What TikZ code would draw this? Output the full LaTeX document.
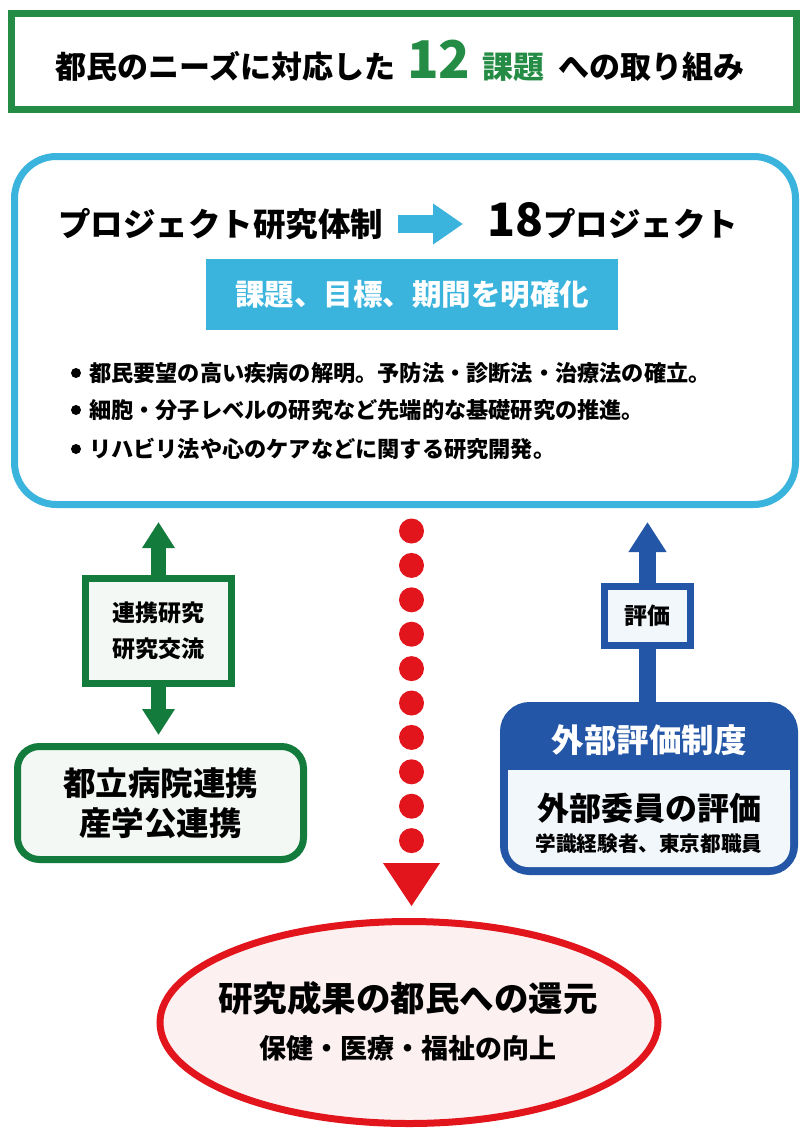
\documentclass[tikz,border=0pt]{standalone}
\usepackage{fontspec}
\setmainfont{Noto Sans CJK JP}
\usetikzlibrary{arrows.meta,shapes.geometric}
\definecolor{tgreen}{HTML}{248C44}
\definecolor{dgreen}{HTML}{137B3B}
\definecolor{lblue}{HTML}{3AB3DD}
\definecolor{dblue}{HTML}{2356A6}
\definecolor{tred}{HTML}{E2141C}
\definecolor{pinkfill}{HTML}{FCF1F0}
\definecolor{greenfill}{HTML}{F3F8F4}
\definecolor{bluefill}{HTML}{F2F7FC}
\newcommand{\fs}[1]{\fontsize{#1}{#1}\selectfont}
\begin{document}
\begin{tikzpicture}[x=1pt,y=-1pt,
  every node/.style={inner sep=0pt, outer sep=0pt, font=\bfseries},
  frame/.style={line width=7pt},
  bullettext/.style={anchor=base west, font=\bfseries\fs{22.2}},
  bulletdot/.style={circle, fill=black, minimum size=10pt},
]
\fill[white] (0,0) rectangle (807,1132);
\useasboundingbox (0,0) rectangle (807,1132);

% ---- title box
\node[frame, draw=tgreen, minimum width=785pt, minimum height=96pt] (title) at (404,61.5) {};
\node[anchor=base] (titletext) at (400,78) {\fs{31}都民のニーズに対応した\hspace{12pt}{\color{tgreen}\fs{52}12}\hspace{12pt}{\color{tgreen}課題}\hspace{14pt}への取り組み};

% ---- main project box
\node[frame, draw=lblue, fill=white, rounded corners=42pt, minimum width=781pt, minimum height=348pt] (main) at (405,330.5) {};
\node[anchor=base] (proj) at (220.5,236) {\fs{32.5}プロジェクト研究体制};
\node[anchor=base west] (p18) at (487,236) {{\fs{46}18}{\fs{32.5}プロジェクト}};
\coordinate (pa1) at (398,224);
\coordinate (pa2) at (463,224);
\draw[lblue, line width=18pt, -{Triangle[width=39pt,length=30pt]}] (pa1) -- (pa2);
\node[fill=lblue, text=white, minimum width=412pt, minimum height=71pt, font=\bfseries\fs{29.5}] (goal) at (412,294.5) {課題、目標、期間を明確化};

\node[bulletdot] (b1) at (76,373) {};
\node[bulletdot] (b2) at (76,410) {};
\node[bulletdot] (b3) at (76,449) {};
\node[bullettext] (t1) at (89,381.5) {都民要望の高い疾病の解明。予防法・診断法・治療法の確立。};
\node[bullettext] (t2) at (89,418.5) {細胞・分子レベルの研究など先端的な基礎研究の推進。};
\node[bullettext] (t3) at (89,457.5) {リハビリ法や心のケアなどに関する研究開発。};

% ---- green double arrow
\coordinate (gtop) at (158.5,522);
\coordinate (gbot) at (158.5,735);
\draw[dgreen, line width=15pt, {Triangle[width=31pt,length=26pt]}-{Triangle[width=31pt,length=26pt]}] (gtop) -- (gbot);
\node[frame, draw=dgreen, fill=greenfill, minimum width=146pt, minimum height=105pt, align=center, font=\bfseries\fontsize{23}{36}\selectfont] (collab) at (158.5,631) {連携研究\\研究交流};

% ---- green box
\node[frame, draw=dgreen, fill=greenfill, rounded corners=22pt, minimum width=286pt, minimum height=113pt, align=center, font=\bfseries\fontsize{32.5}{40}\selectfont] (hosp) at (160.5,803) {都立病院連携\\産学公連携};

% ---- blue arrow
\coordinate (btop) at (647.5,522);
\coordinate (bbot) at (647.5,706);
\draw[dblue, line width=17pt, -{Triangle[width=36pt,length=30pt]}] (bbot) -- (btop);
\node[frame, draw=dblue, fill=bluefill, minimum width=86pt, minimum height=59pt, font=\bfseries\fs{23}] (evalbox) at (647.5,616) {評価};

% ---- external evaluation box
\node[frame, draw=dblue, fill=dblue, rounded corners=26pt, minimum width=291pt, minimum height=166pt] (ext) at (649,788.5) {};
\fill[bluefill, rounded corners=20pt] (508,770) rectangle (790,867);
\fill[bluefill] (508,770) rectangle (790,800);
\node[anchor=base, text=white, font=\bfseries\fs{32.5}] (exthead) at (649,752) {外部評価制度};
\node[anchor=base, font=\bfseries\fs{32}] (extmem) at (649,820) {外部委員の評価};
\node[anchor=base, font=\bfseries\fs{20.6}] (extsub) at (649,851) {学識経験者、東京都職員};

% ---- red dotted connector
\foreach \i in {0,...,9} {
  \fill[tred] (411.5,531+34.4*\i) circle (12.5);
}
\fill[tred] (383,863) -- (440,863) -- (411.5,906) -- cycle;

% ---- result ellipse
\node[ellipse, frame, draw=tred, fill=pinkfill, minimum width=498pt, minimum height=202pt] (result) at (409,1022.5) {};
\node[anchor=base, font=\bfseries\fs{34.5}] (res1) at (408,1011) {研究成果の都民への還元};
\node[anchor=base, font=\bfseries\fs{27}] (res2) at (408,1058) {保健・医療・福祉の向上};
\end{tikzpicture}
\end{document}
